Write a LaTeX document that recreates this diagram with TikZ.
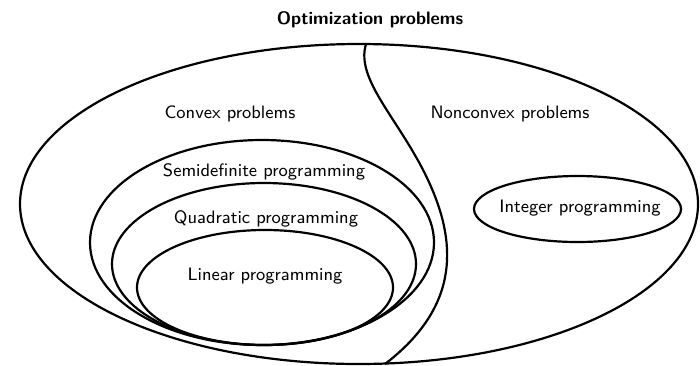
\documentclass[tikz,border=0pt]{standalone}
\usepackage{fontspec}
\begin{document}
\begin{tikzpicture}[x=0.5pt,y=-0.5pt,
  region/.style={line width=1.1pt},
  lbl/.style={font=\sffamily\fontsize{9}{11}\selectfont, inner sep=0pt},
  ttl/.style={font=\sffamily\bfseries\fontsize{9}{11}\selectfont, inner sep=0pt}]
\useasboundingbox (0,0) rectangle (700,365);
% outer set of all optimization problems
\draw[region] (359,204) ellipse [x radius=169.5pt, y radius=80pt];
% boundary between convex and nonconvex
\coordinate (topsplit) at (366,44);
\coordinate (midsplit) at (428,180);
\coordinate (botsplit) at (385,364);
\draw[region] (topsplit) .. controls (355,80) and (400,120) .. (midsplit)
  .. controls (456,240) and (462,305) .. (botsplit);
% nested convex classes
\draw[region] (262,242.5) ellipse [x radius=86pt, y radius=51.25pt];
\draw[region] (264,264) ellipse [x radius=76pt, y radius=40.5pt];
\draw[region] (265,287.5) ellipse [x radius=64pt, y radius=28.75pt];
% integer programming
\draw[region] (577.5,209) ellipse [x radius=51.75pt, y radius=16.5pt];
% labels
\node[ttl] (title) at (370,20) {Optimization problems};
\node[lbl] (convex) at (230,114) {Convex problems};
\node[lbl] (nonconvex) at (510,114) {Nonconvex problems};
\node[lbl] (sdp) at (264,172) {Semidefinite programming};
\node[lbl] (qp) at (266,219) {Quadratic programming};
\node[lbl] (lp) at (265,276) {Linear programming};
\node[lbl] (ip) at (580,208) {Integer programming};
\end{tikzpicture}
\end{document}
